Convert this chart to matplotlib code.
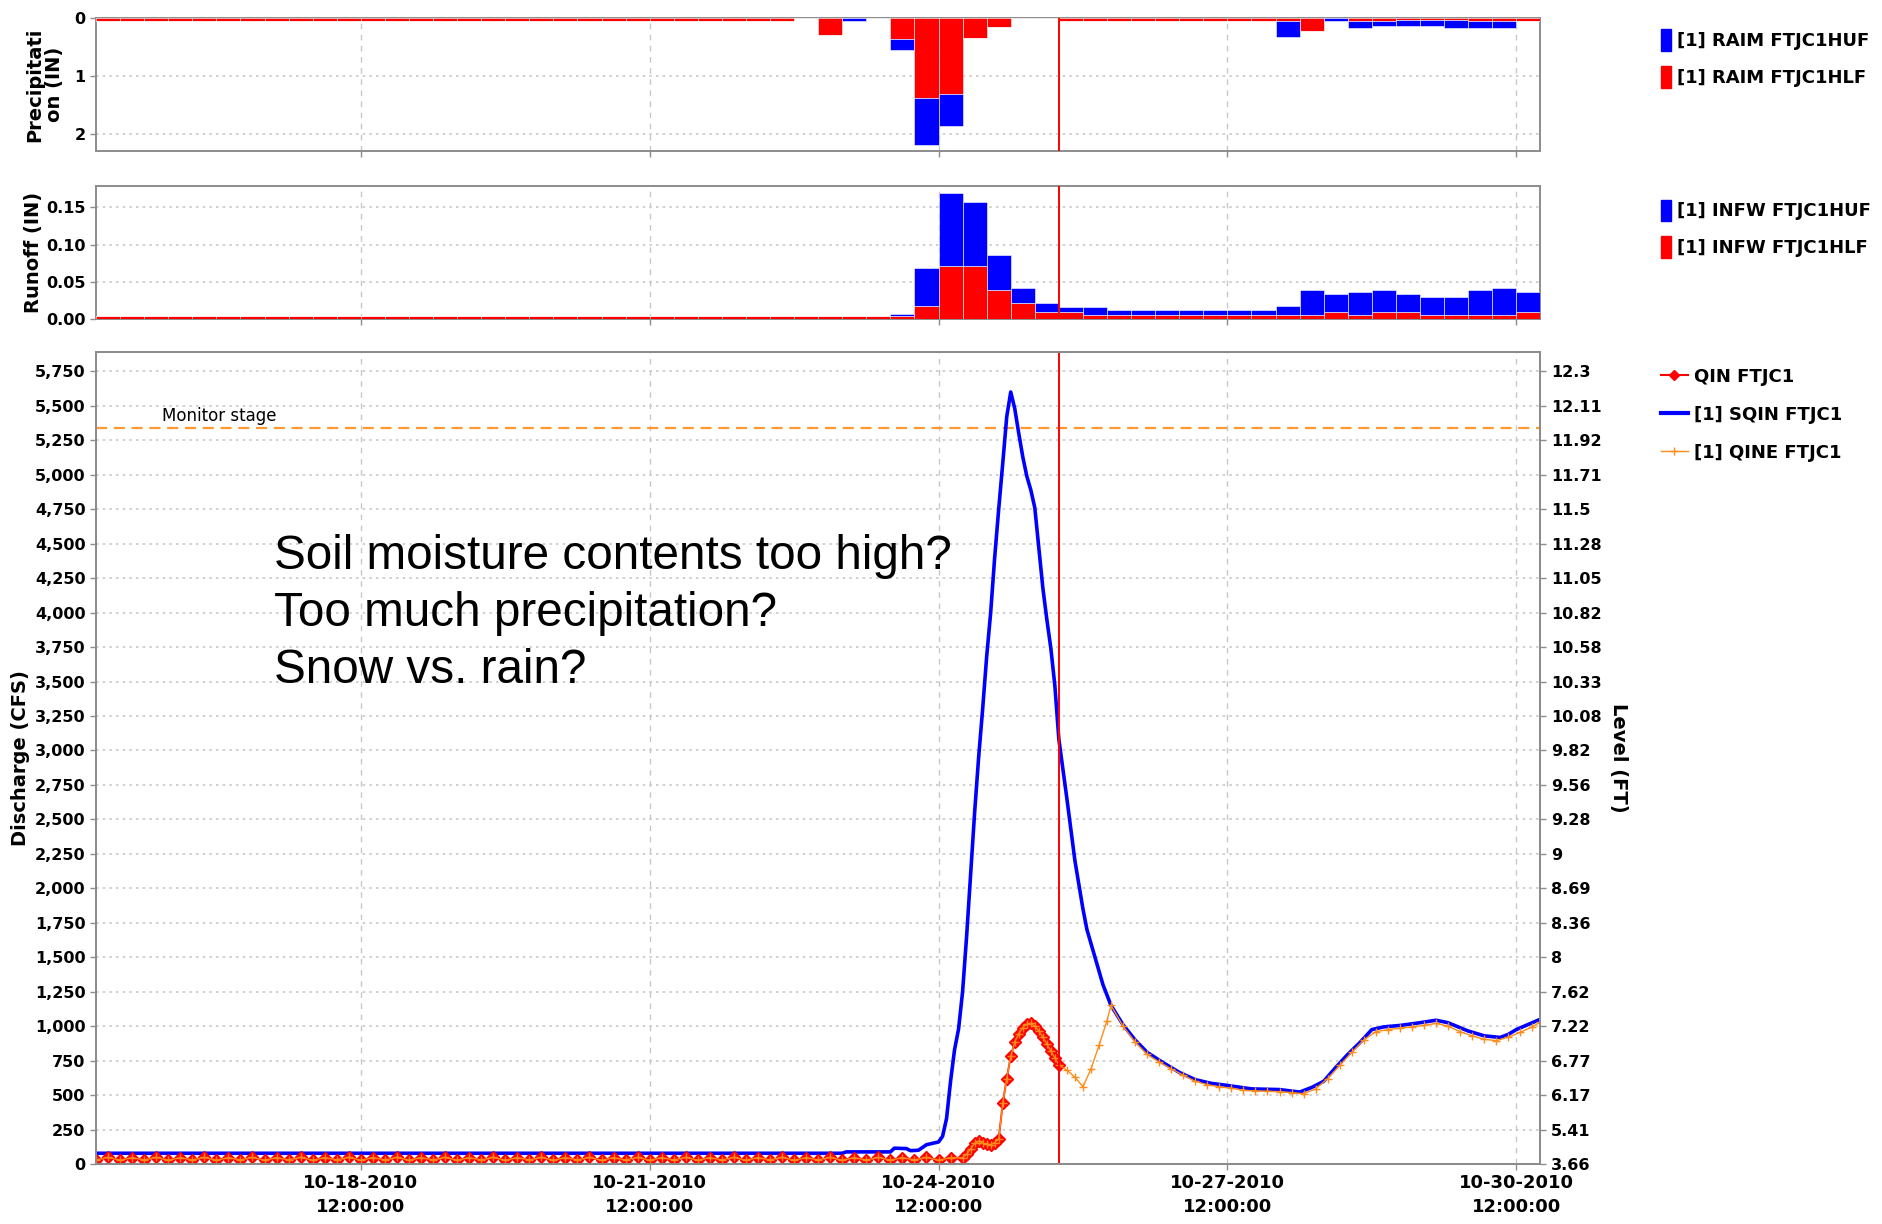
import pandas as pd
import matplotlib.pyplot as plt
import matplotlib.dates as mdates
from matplotlib.patches import Patch
from matplotlib.lines import Line2D

# ---- time frame -------------------------------------------------------------
start_time = "2010-10-15 18:00"
end_time = "2010-10-30 18:00"
now_time = "2010-10-25 18:00"          # forecast issue time (red line)
tick_times = ["2010-10-18 12:00", "2010-10-21 12:00", "2010-10-24 12:00",
              "2010-10-27 12:00", "2010-10-30 12:00"]
tick_labels = ["10-18-2010\n12:00:00", "10-21-2010\n12:00:00", "10-24-2010\n12:00:00",
               "10-27-2010\n12:00:00", "10-30-2010\n12:00:00"]

# ---- 6-hour precipitation / runoff (60 periods from 10-15 18:00) -------------
raim_hlf = ([0.05] * 29 + [0.0, 0.30, 0.0, 0.0, 0.37, 1.38, 1.31, 0.35, 0.16, 0.0, 0.0]
            + [0.05] * 9 + [0.05, 0.22, 0.0, 0.05, 0.05, 0.03, 0.03, 0.03, 0.05, 0.05, 0.05])
raim_huf = ([0.0] * 29 + [0.0, 0.0, 0.05, 0.0, 0.18, 0.82, 0.55, 0.0, 0.0, 0.0, 0.0]
            + [0.0] * 9 + [0.27, 0.0, 0.05, 0.13, 0.09, 0.11, 0.11, 0.14, 0.12, 0.12, 0.0])

infw_hlf = ([0.004] * 33 + [0.004, 0.018, 0.071, 0.071, 0.039, 0.021, 0.009, 0.009, 0.006]
            + [0.006] * 7 + [0.006, 0.006, 0.009, 0.006, 0.009, 0.009, 0.006, 0.006, 0.006, 0.006, 0.009])
infw_huf = ([0.0] * 33 + [0.003, 0.050, 0.098, 0.086, 0.047, 0.021, 0.012, 0.007, 0.010]
            + [0.0065] * 7 + [0.012, 0.033, 0.024, 0.030, 0.030, 0.024, 0.024, 0.024, 0.033, 0.036, 0.027])

# ---- observed discharge QIN (cfs) --------------------------------------------
# 3-hourly readings 10-15 18:00 .. 10-24 18:00
qin_base = [30, 48, 28, 46, 30, 48, 28, 46, 30, 48, 28, 46,
            30, 48, 28, 46, 30, 48, 28, 46, 30, 48, 28, 46,
            30, 48, 28, 46, 30, 48, 28, 46, 30, 48, 28, 46,
            30, 48, 28, 46, 30, 48, 28, 46, 30, 48, 28, 46,
            30, 48, 28, 46, 30, 48, 28, 46, 30, 48, 28, 46,
            30, 48, 28, 46, 30, 48, 28, 46, 30, 48, 28, 46,
            45]
# hourly readings 10-24 19:00 .. 10-25 18:00
qin_rise = [70, 110, 150, 165, 150, 145, 140, 155, 180, 440, 620, 780,
            885, 945, 990, 1015, 1020, 1000, 965, 920, 870, 820, 770, 720]

# ---- QINE extension after 10-25 18:00 ---------------------------------------
qine_times = ["10-25 20:00", "10-25 22:00", "10-26 00:00", "10-26 02:00", "10-26 04:00",
              "10-26 06:00", "10-26 07:00", "10-26 10:00", "10-26 13:00", "10-26 16:00",
              "10-26 19:00", "10-26 22:00", "10-27 01:00", "10-27 04:00", "10-27 07:00",
              "10-27 10:00", "10-27 13:00", "10-27 16:00", "10-27 19:00", "10-27 22:00",
              "10-28 01:00", "10-28 04:00", "10-28 07:00", "10-28 10:00", "10-28 13:00",
              "10-28 16:00", "10-28 19:00", "10-28 22:00", "10-29 01:00", "10-29 04:00",
              "10-29 07:00", "10-29 10:00", "10-29 13:00", "10-29 16:00", "10-29 19:00",
              "10-29 22:00", "10-30 01:00", "10-30 04:00", "10-30 07:00", "10-30 10:00",
              "10-30 13:00", "10-30 16:00", "10-30 18:00"]
qine_flow = [680, 630, 560, 690, 860, 1040, 1150, 1000, 885, 795,
             740, 690, 645, 600, 575, 560, 550, 535, 530, 528,
             525, 518, 510, 545, 620, 715, 810, 900, 960, 975,
             985, 995, 1005, 1020, 1000, 960, 930, 905, 895, 920,
             955, 995, 1030]

# ---- simulated discharge SQIN (cfs) -----------------------------------------
sqin_times = ["10-15 18:00", "10-23 12:00", "10-23 13:00", "10-24 00:00", "10-24 01:00",
              "10-24 04:00", "10-24 05:00", "10-24 07:00", "10-24 09:00", "10-24 12:00",
              "10-24 13:00", "10-24 14:00", "10-24 15:00", "10-24 16:00", "10-24 17:00",
              "10-24 18:00", "10-24 19:00", "10-24 20:00", "10-24 21:00", "10-24 22:00",
              "10-24 23:00", "10-25 00:00", "10-25 01:00", "10-25 02:00", "10-25 03:00",
              "10-25 04:00", "10-25 05:00", "10-25 06:00", "10-25 07:00", "10-25 08:00",
              "10-25 09:00", "10-25 10:00", "10-25 11:00", "10-25 12:00", "10-25 13:00",
              "10-25 14:00", "10-25 15:00", "10-25 16:00", "10-25 17:00", "10-25 18:00",
              "10-25 20:00", "10-25 22:00", "10-26 00:00", "10-26 01:00", "10-26 03:00",
              "10-26 05:00", "10-26 07:00", "10-26 10:00", "10-26 13:00", "10-26 16:00",
              "10-26 20:00", "10-27 00:00", "10-27 04:00", "10-27 08:00", "10-27 12:00",
              "10-27 18:00", "10-28 01:00", "10-28 06:00", "10-28 09:00", "10-28 12:00",
              "10-28 15:00", "10-28 18:00", "10-28 21:00", "10-29 00:00", "10-29 03:00",
              "10-29 07:00", "10-29 12:00", "10-29 16:00", "10-29 19:00", "10-30 00:00",
              "10-30 04:00", "10-30 08:00", "10-30 10:00", "10-30 12:00", "10-30 18:00"]
sqin_flow = [78, 78, 88, 88, 115, 112, 97, 100, 140, 160,
             200, 330, 600, 830, 980, 1250, 1650, 2100, 2550, 2950,
             3300, 3680, 4000, 4400, 4750, 5080, 5420, 5600, 5480, 5300,
             5130, 4990, 4890, 4760, 4470, 4180, 3950, 3740, 3470, 3080,
             2650, 2200, 1850, 1700, 1500, 1300, 1150, 1010, 900, 810,
             735, 665, 612, 585, 570, 545, 540, 522, 555, 600,
             700, 795, 880, 975, 995, 1005, 1025, 1043, 1025, 965,
             930, 918, 940, 975, 1050]

monitor_stage = 5340

# discharge ticks (cfs) and the matching stage on the rating curve (ft)
flow_ticks = list(range(0, 6000, 250))
level_labels = ["3.66", "5.41", "6.17", "6.77", "7.22", "7.62", "8", "8.36", "8.69", "9",
                "9.28", "9.56", "9.82", "10.08", "10.33", "10.58", "10.82", "11.05",
                "11.28", "11.5", "11.71", "11.92", "12.11", "12.3"]

note = "Soil moisture contents too high?\nToo much precipitation?\nSnow vs. rain?"


def to_num(stamps):
    return mdates.date2num(pd.to_datetime(stamps))


t0, t1, t_now = to_num([start_time, end_time, now_time])
tick_pos = to_num(tick_times)
bar_pos = mdates.date2num(pd.date_range(start_time, periods=len(raim_hlf), freq="6h"))

qin_t = list(mdates.date2num(pd.date_range(start_time, "2010-10-24 18:00", freq="3h"))) + \
    list(mdates.date2num(pd.date_range("2010-10-24 19:00", "2010-10-25 18:00", freq="1h")))
qin_q = qin_base + qin_rise
qine_t = qin_t + list(to_num(["2010-" + s for s in qine_times]))
qine_q = qin_q + qine_flow
sqin_t = to_num(["2010-" + s for s in sqin_times])

tick_font = {"family": "DejaVu Sans", "weight": "bold", "size": 11.5}
xtick_font = {"family": "DejaVu Sans", "weight": "bold", "size": 13}
label_font = {"family": "DejaVu Sans", "weight": "bold", "size": 14}
GRAY = "#8c8c8c"
ORANGE = "#ff8c1a"

fig = plt.figure(figsize=(18.83, 12.24), dpi=100)
ax_p = fig.add_axes([0.051, 0.8766, 0.767, 0.1087])
ax_r = fig.add_axes([0.051, 0.7394, 0.767, 0.1087])
ax_q = fig.add_axes([0.051, 0.049, 0.767, 0.6634])


def style_axes(ax):
    for s in ax.spines.values():
        s.set_color(GRAY)
        s.set_linewidth(1.4)
    ax.tick_params(colors=GRAY, labelcolor="black", length=4, width=1)
    ax.set_xlim(t0, t1)
    ax.set_xticks(tick_pos)
    ax.grid(axis="x", color="#c8c8c8", linestyle=(0, (4, 4)), linewidth=1)
    ax.grid(axis="y", color="#c8c8c8", linestyle=(0, (1.5, 2.5)), linewidth=1.2)
    ax.set_axisbelow(True)
    ax.axvline(t_now, color="red", lw=1.4, zorder=6)
    for lab in ax.get_yticklabels():
        lab.set(**tick_font)


# precipitation (inverted)
ax_p.bar(bar_pos, raim_hlf, width=0.25, align="edge", color="red",
         edgecolor="white", linewidth=0.4, zorder=3)
ax_p.bar(bar_pos, raim_huf, width=0.25, align="edge", bottom=raim_hlf, color="blue",
         edgecolor="white", linewidth=0.4, zorder=3)
ax_p.set_ylim(2.3, 0)
ax_p.set_yticks([0, 1, 2])
ax_p.set_yticklabels(["0", "1", "2"])
ax_p.tick_params(axis="x", labelbottom=False)
style_axes(ax_p)
ax_p.set_ylabel("Precipitati\non (IN)", fontdict=label_font, linespacing=1.1)
ax_p.yaxis.set_label_coords(-0.022, 0.5)

# runoff
ax_r.bar(bar_pos, infw_hlf, width=0.25, align="edge", color="red",
         edgecolor="white", linewidth=0.4, zorder=3)
ax_r.bar(bar_pos, infw_huf, width=0.25, align="edge", bottom=infw_hlf, color="blue",
         edgecolor="white", linewidth=0.4, zorder=3)
ax_r.set_ylim(0, 0.179)
ax_r.set_yticks([0, 0.05, 0.10, 0.15])
ax_r.set_yticklabels(["0.00", "0.05", "0.10", "0.15"])
ax_r.tick_params(axis="x", labelbottom=False)
style_axes(ax_r)
ax_r.set_ylabel("Runoff (IN)", fontdict=label_font)
ax_r.yaxis.set_label_coords(-0.037, 0.5)

# discharge
ax_q.plot(sqin_t, sqin_flow, color="blue", lw=2.6, zorder=3)
ax_q.plot(qin_t, qin_q, color="red", lw=1.4, marker="D", ms=6.5, zorder=4)
ax_q.plot(qine_t, qine_q, color=ORANGE, lw=1.0, marker="+", ms=6, mew=1, zorder=5)
ax_q.axhline(monitor_stage, color="#ff9933", lw=1.6, linestyle=(0, (5, 3)), zorder=2)
ax_q.text(0.046, 5425, "Monitor stage", transform=ax_q.get_yaxis_transform(),
          fontsize=12, va="center", ha="left", family="DejaVu Sans")
ax_q.set_ylim(0, 5890)
ax_q.set_yticks(flow_ticks)
ax_q.set_yticklabels([f"{v:,}" for v in flow_ticks])
style_axes(ax_q)
ax_q.set_xticklabels(tick_labels)
for lab in ax_q.get_xticklabels():
    lab.set(**xtick_font)
    lab.set_linespacing(1.4)
ax_q.set_ylabel("Discharge (CFS)", fontdict=label_font)
ax_q.yaxis.set_label_coords(-0.046, 0.5)
ax_q.text(0.123, 0.776, note, transform=ax_q.transAxes, va="top", ha="left",
          fontsize=34.3, family="Liberation Sans", linespacing=1.35, zorder=7)

ax_l = ax_q.twinx()
ax_l.set_ylim(ax_q.get_ylim())
ax_l.set_yticks(flow_ticks)
ax_l.set_yticklabels(level_labels)
for s in ax_l.spines.values():
    s.set_color(GRAY)
    s.set_linewidth(1.4)
ax_l.tick_params(colors=GRAY, labelcolor="black", length=4, width=1)
for lab in ax_l.get_yticklabels():
    lab.set(**tick_font)
ax_l.set_ylabel("Level (FT)", fontdict=label_font, rotation=-90, va="center")
ax_l.yaxis.set_label_coords(1.054, 0.5)

# legends on the right
leg_font = {"family": "DejaVu Sans", "weight": "bold", "size": 13}
leg_kw = dict(loc="upper left", frameon=False, borderpad=0, borderaxespad=0,
              prop=leg_font, handletextpad=0.35)
fig.legend([Patch(color="blue"), Patch(color="red")],
           ["[1] RAIM FTJC1HUF", "[1] RAIM FTJC1HLF"],
           bbox_to_anchor=(0.882, 0.976), handlelength=0.55, handleheight=1.45,
           labelspacing=0.85, **leg_kw)
fig.legend([Patch(color="blue"), Patch(color="red")],
           ["[1] INFW FTJC1HUF", "[1] INFW FTJC1HLF"],
           bbox_to_anchor=(0.882, 0.837), handlelength=0.55, handleheight=1.45,
           labelspacing=0.85, **leg_kw)
fig.legend([Line2D([], [], color="red", marker="D", ms=5, lw=1.5),
            Line2D([], [], color="blue", lw=3),
            Line2D([], [], color=ORANGE, marker="+", ms=6, lw=1)],
           ["QIN FTJC1", "[1] SQIN FTJC1", "[1] QINE FTJC1"],
           bbox_to_anchor=(0.882, 0.6995), handlelength=1.5, labelspacing=1.1, **leg_kw)

fig.savefig("out.png", dpi=100)
